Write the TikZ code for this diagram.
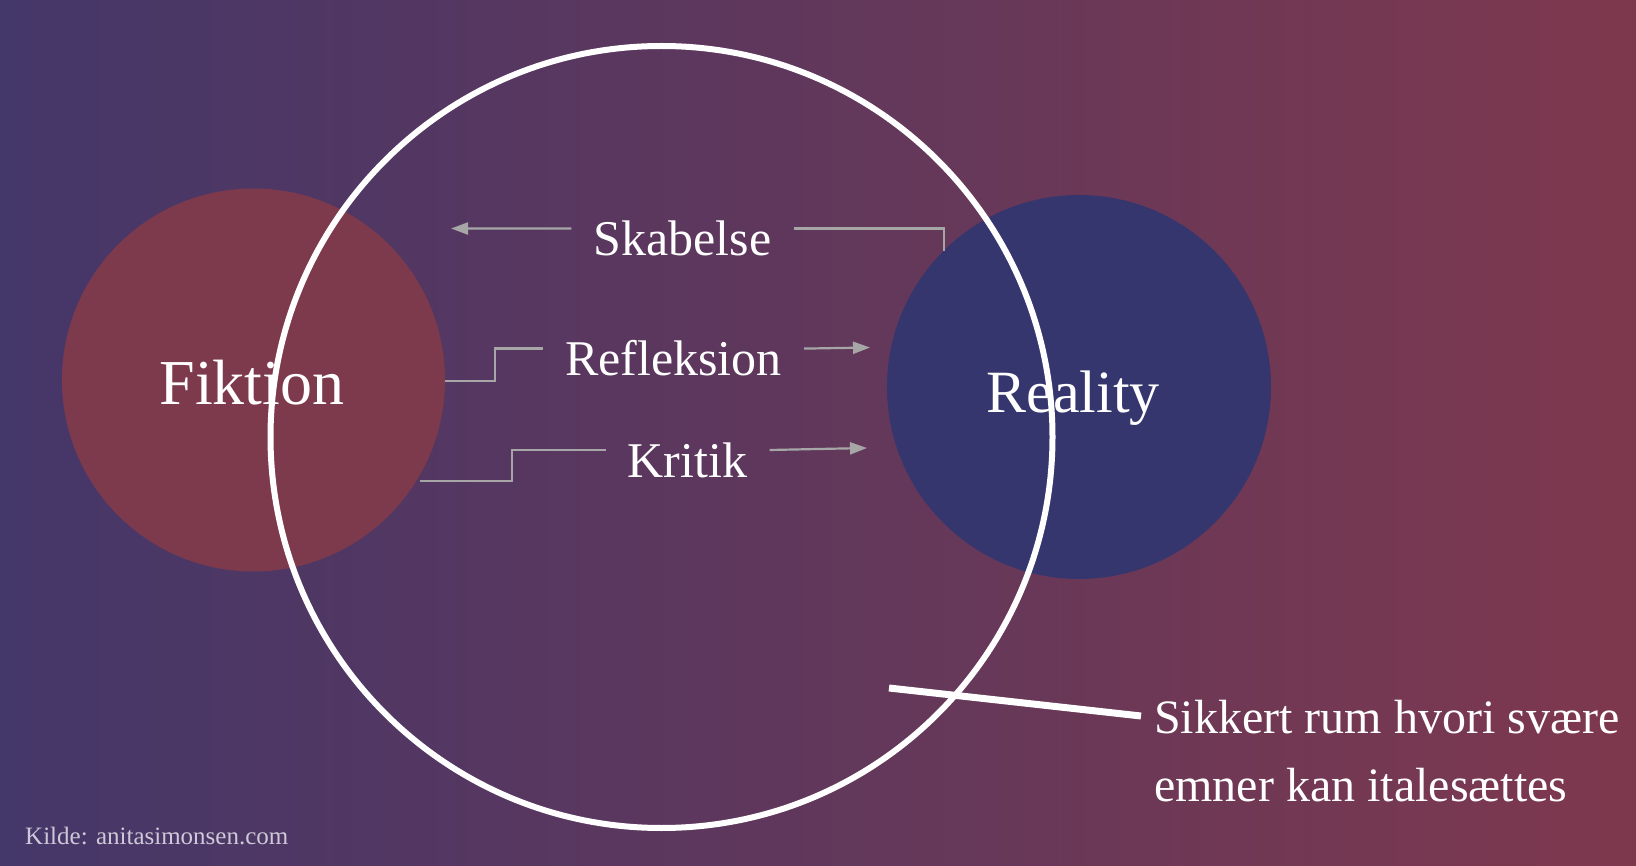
\documentclass[tikz,border=0pt]{standalone}
\usepackage{fontspec}
\setmainfont{Liberation Serif}
\usetikzlibrary{arrows.meta}
\definecolor{bgL}{HTML}{443769}
\definecolor{bgR}{HTML}{7E384E}
\definecolor{fik}{HTML}{7E3A4D}
\definecolor{rea}{HTML}{36366F}
\definecolor{conn}{HTML}{A6A6A6}
\definecolor{src}{HTML}{CFC8D8}
\tikzset{
  blob/.style={circle, inner sep=0pt, draw=none},
  bigtxt/.style={text=white, inner sep=0pt},
  midtxt/.style={text=white, inner ysep=0pt, inner xsep=22pt, font=\fontsize{50}{60}\selectfont},
  safetxt/.style={text=white, inner sep=0pt, font=\fontsize{48}{56}\selectfont},
  conline/.style={draw=conn, line width=2.2pt},
  contip/.style={conline, -{Triangle[length=17pt,width=12pt]}},
}
\begin{document}
\begin{tikzpicture}[x=1pt,y=-1pt]
\useasboundingbox (0,0) rectangle (1636,866);
\shade[left color=bgL, right color=bgR] (0,0) rectangle (1636,866);

\node[blob, fill=fik, minimum size=383pt] (fikc) at (253.5,380) {};
\node[blob, fill=rea, minimum size=384pt] (reac) at (1079,387) {};
\node[circle, draw=white, line width=6pt, inner sep=0pt, minimum size=782pt] (space) at (661.5,437) {};

\node[bigtxt, anchor=base, font=\fontsize{64}{76}\selectfont] (fiktxt) at (252,405) {Fiktion};
\node[bigtxt, anchor=base, font=\fontsize{60}{72}\selectfont] (reatxt) at (1073,413) {Reality};

\node[midtxt, anchor=base] (skab) at (682.5,255.6) {Skabelse};
\node[midtxt, anchor=base] (refl) at (673.5,375.6) {Refleksion};
\node[midtxt, anchor=base] (krit) at (687.6,477) {Kritik};

\coordinate (skabtip) at (451,228.5);
\coordinate (skabend) at (944,251);
\coordinate (reflA) at (445,381);
\coordinate (refltip) at (870,347.5);
\coordinate (kritA) at (420,481);
\coordinate (krittip) at (867,448);

\draw[contip] ([yshift=27pt]skab.base west) -- (skabtip);
\draw[conline] ([yshift=27pt]skab.base east) -| (skabend);
\draw[conline] (reflA) -- ++(50,0) |- ([yshift=27pt]refl.base west);
\draw[contip] ([yshift=27pt]refl.base east) -- (refltip);
\draw[conline] (kritA) -- ++(92,0) |- ([yshift=27pt]krit.base west);
\draw[contip] ([yshift=27pt]krit.base east) -- (krittip);

\node[safetxt, anchor=base west] (safe1) at (1154,733) {Sikkert rum hvori svære};
\node[safetxt, anchor=base west] (safe2) at (1154,801) {emner kan italesættes};
\coordinate (safeA) at (889,688);
\coordinate (safeB) at (1141,716);
\draw[white, line width=7pt] (safeA) -- (safeB);

\node[text=src, inner sep=0pt, anchor=base west, font=\fontsize{25}{30}\selectfont] (kilde) at (25,844) {Kilde: anitasimonsen.com};
\end{tikzpicture}
\end{document}
